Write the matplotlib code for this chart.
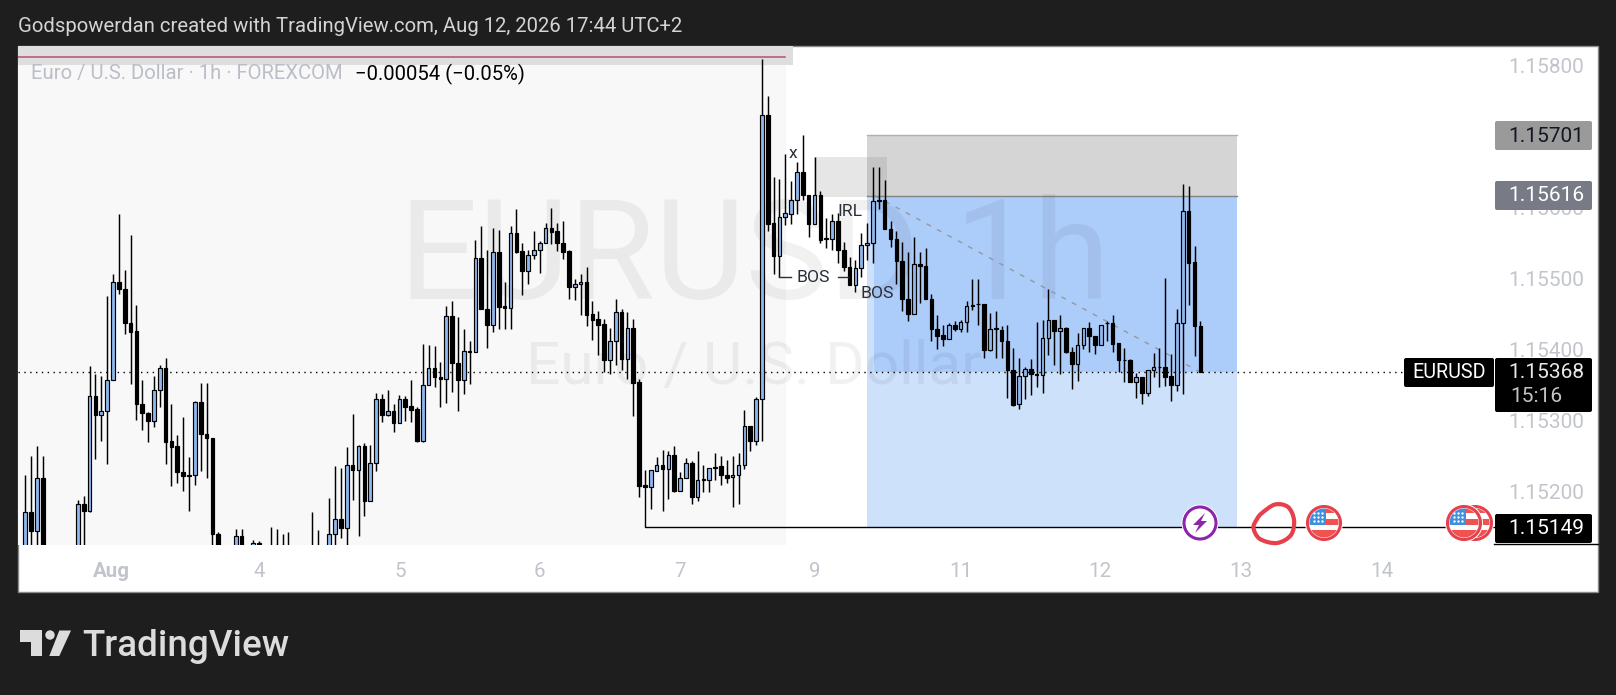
import numpy as np
import matplotlib
matplotlib.use("Agg")
import matplotlib.pyplot as plt
from matplotlib.patches import Rectangle, Circle, Polygon, FancyBboxPatch, PathPatch
from matplotlib.path import Path

plt.rcParams['font.family'] = ['Roboto', 'DejaVu Sans']

N = float('nan')
base_price = 1.15
opens_pts = [110,170,144,219,N,N,N,N,N,105,182,
 172,334,307,313,357,494,485,437,425,
 323,310,299,343,373,270,263,227,222,222,
 325,281,275,140,N,N,110,137,N,110,127,N,115,124,124,115,N,N,N,118,112,N,
 110,140,161,148,237,230,263,186,
 240,330,307,313,296,329,320,315,271,349,
 373,361,358,447,381,357,397,396,528,457,
 434,536,460,458,563,538,510,532,539,549,
 571,566,550,538,488,491,494,449,442,435,
 385,411,452,386,429,353,208,206,228,237,
 231,251,200,219,240,192,217,216,234,235,
 223,220,223,237,292,271,330,730,577,531,
 586,590,610,650,617,576,617,556,555,581,
 539,515,490,514,547,550,610,610,569,555,
 524,471,449,520,517,471,428,420,414,434,
 428,438,462,464,464,398,429,427,411,371,
 322,362,372,365,364,415,441,425,430,396,
 379,406,429,419,406,437,436,408,385,385,
 354,360,338,371,375,374,362,349,436,595,
 522,432]
highs_pts = [223,249,263,249,N,N,N,N,N,188,193,
 376,365,362,475,506,590,511,561,462,
 356,312,362,377,388,322,279,304,248,327,
 352,352,275,143,N,N,147,147,N,131,129,N,150,147,139,142,N,N,N,171,145,N,
 190,235,233,262,309,265,267,265,
 338,336,342,322,335,334,356,318,407,405,
 404,382,460,467,445,428,411,553,573,540,
 570,567,494,573,597,549,540,566,552,578,
 598,578,580,540,498,505,516,467,453,442,
 429,470,457,452,442,358,229,229,248,258,
 257,263,227,246,243,257,236,233,254,250,
 244,250,254,314,292,333,809,756,643,639,
 674,636,663,702,617,670,623,584,590,591,
 551,529,526,564,577,656,657,638,581,566,
 551,536,558,536,543,477,448,434,437,440,
 441,467,499,499,464,451,453,433,434,401,
 388,374,386,438,441,485,441,448,431,403,
 423,430,438,419,434,440,448,408,402,386,
 366,360,371,395,402,500,393,456,633,629,
 545,440]
lows_pts = [95,100,110,95,N,N,N,N,N,95,110,
 170,245,271,238,357,478,421,351,300,
 286,269,290,318,238,207,211,200,172,208,
 228,218,115,100,N,N,100,100,N,100,100,N,100,100,100,100,N,N,N,100,100,N,
 100,123,134,120,188,137,165,186,
 228,297,305,283,296,298,297,269,269,349,
 347,318,324,340,313,337,351,396,457,402,
 424,428,428,428,535,476,492,527,507,549,
 548,538,527,471,469,448,433,413,391,367,
 365,377,370,358,306,192,205,175,228,172,
 189,199,200,219,182,186,199,199,216,208,
 211,177,182,231,257,265,271,566,506,501,
 574,576,590,610,558,576,550,543,540,521,
 510,490,480,501,525,521,597,569,544,492,
 453,439,449,465,471,411,400,404,414,425,
 424,424,455,434,387,397,388,388,331,320,
 315,330,335,346,338,391,377,365,394,344,
 355,400,396,393,406,412,396,368,354,353,
 331,323,334,360,347,348,327,341,337,462,
 390,367]
closes_pts = [170,144,219,105,N,N,N,N,N,182,172,
 334,307,313,357,494,485,437,424,323,
 310,299,343,373,269,262,227,221,221,325,
 280,275,139,110,N,N,137,110,N,127,112,N,110,112,112,118,N,N,N,112,118,N,
 140,161,148,237,230,263,186,240,
 330,307,313,296,329,319,314,271,349,373,
 361,358,447,381,357,397,396,528,457,434,
 536,459,458,563,537,510,532,539,549,571,
 565,550,537,488,491,494,448,441,434,385,
 411,452,386,429,352,207,206,229,237,231,
 251,200,219,240,192,216,216,233,232,223,
 219,223,237,292,271,330,730,576,531,586,
 591,610,650,617,576,617,554,555,581,539,
 515,490,514,547,550,609,609,569,555,524,
 470,449,520,517,471,428,419,414,434,428,
 438,461,461,463,398,428,428,411,370,321,
 362,372,365,364,415,441,425,430,396,379,
 406,429,418,406,434,436,407,384,384,353,
 360,338,371,375,375,361,349,436,595,521,
 432,368]

price_ticks = [1.158, 1.157, 1.156, 1.155, 1.154, 1.153, 1.152]
price_labels = ['1.15800', '', '1.15600', '1.15500', '1.15400', '1.15300', '1.15200']
time_pos = [14.8, 40, 64.1, 87.9, 112, 135, 160, 183.8, 208, 232]
time_labels = ['Aug', '4', '5', '6', '7', '9', '11', '12', '13', '14']

entry_price = 1.15616
stop_price = 1.15701
target_price = 1.15149
last_price = 1.15368

o = base_price + np.array(opens_pts) * 1e-5
h = base_price + np.array(highs_pts) * 1e-5
l = base_price + np.array(lows_pts) * 1e-5
c = base_price + np.array(closes_pts) * 1e-5
assert len(o) == len(h) == len(l) == len(c) == 202, (len(o), len(h), len(l), len(c))
idx = np.arange(len(o))

W, H = 1616, 695
fig = plt.figure(figsize=(W / 100, H / 100), dpi=100, facecolor='#1e1e1e')

def px_axes(z):
    a = fig.add_axes([0, 0, 1, 1], zorder=z)
    a.set_xlim(0, W)
    a.set_ylim(H, 0)
    a.axis('off')
    a.patch.set_alpha(0)
    return a

bg = px_axes(0)
top = px_axes(5)

# frame and replay shade
bg.add_patch(Rectangle((17.5, 46), 1580.5, 546, fc='white', ec='#8a8a8a', lw=1))
bg.add_patch(Rectangle((18, 46.5), 768, 498.5, fc='#f8f8f8', ec='none'))

# header
bg.text(18, 26, 'Godspowerdan created with TradingView.com, Aug 12, 2026 17:44 UTC+2',
        color='#d4d4d4', fontsize=14.62, va='center', ha='left')

# price pane
ax = fig.add_axes([18 / W, 1 - 545 / H, (1495 - 18) / W, (545 - 46) / H], zorder=2)
ax.set_facecolor('none')
ax.set_xlim(-1.25, 251.4)
ax.set_ylim(1.15124, 1.158268)
for s in ax.spines.values():
    s.set_visible(False)

# highlight band at top left
ax.add_patch(Rectangle((-1.25, 1.158), 132.55, 0.000268, fc='#dedede', ec='none', zorder=1))
ax.plot([-1.25, 130], [1.15812, 1.15812], color='#b5506f', lw=1.1, zorder=1.5)

# position tool
ax.add_patch(Rectangle((144, target_price), 63.2, entry_price - target_price, fc='#cee1fb', ec='none', zorder=1))
ax.add_patch(Rectangle((145.1, last_price), 62.1, entry_price - last_price, fc='#acccf9', ec='none', zorder=1.1))
ax.add_patch(Rectangle((144, entry_price), 63.2, stop_price - entry_price, fc='#d5d5d5', ec='none', zorder=1.1))
ax.plot([144, 207.2], [stop_price] * 2, color='#b0b0b0', lw=1, zorder=1.2)
ax.plot([144, 207.2], [entry_price] * 2, color='#858585', lw=1, zorder=1.2)
ax.add_patch(Rectangle((134.9, 1.15614), 12.5, 0.00056, fc='#787878', alpha=0.18, ec='none', zorder=1.3))

# watermarks
ax.text(0.4985, 1 - (260 - 46) / 499, 'EURUSD 1h', transform=ax.transAxes, fontsize=100.5, color='black', alpha=0.055,
        ha='center', va='center', zorder=1.6)
ax.text(0.4985, 1 - (367 - 46) / 499, 'Euro / U.S. Dollar', transform=ax.transAxes, fontsize=43.5, color='black',
        alpha=0.055, ha='center', va='center', zorder=1.6)

# reference lines
ax.plot([-1.25, 235.8], [last_price] * 2, color='black', lw=1, ls=(0, (1, 3.2)), zorder=2)
ax.plot([106, 106, 251.4], [1.15206, target_price, target_price], color='black', lw=1.0, zorder=2)
ax.plot([145.3, 200.9], [entry_price, last_price], color='#9598a1', lw=1, ls=(0, (3.5, 5)), zorder=2.5)

# candles
ax.vlines(idx, l, h, color='black', lw=1.05, zorder=3)
up = c >= o
dn = c < o
ax.bar(idx[up], (c - o)[up], bottom=o[up], width=0.62, color='#8fb8ec', edgecolor='black', lw=0.85, zorder=3.2)
ax.bar(idx[dn], (o - c)[dn], bottom=c[dn], width=0.62, color='black', edgecolor='black', lw=0.85, zorder=3.2)

# axes text
ax.yaxis.tick_right()
ax.set_yticks(price_ticks, labels=price_labels)
ax.set_xticks(time_pos, labels=time_labels)
ax.tick_params(axis='y', length=0, pad=9.8, labelsize=15, labelcolor='#c3c5cc')
ax.tick_params(axis='x', length=0, pad=12, labelsize=14.8, labelcolor='#c1c4cb')
ax.get_xticklabels()[0].set_fontweight('bold')
for t in ax.get_yticklabels():
    t.set_y(t.get_position()[1])

# overlay marks
top.plot([1494, 1598], [544, 544], color='black', lw=1)
for txt, x, y in [('x', 793, 154), ('IRL', 850, 212), ('BOS', 813, 277), ('BOS', 877, 293)]:
    top.text(x, y, txt, color='#2a2e39', fontsize=12.6, ha='center', va='center')
top.plot([779, 791], [277, 277], color='#2a2e39', lw=1)
top.plot([838, 848], [277, 277], color='#2a2e39', lw=1)

top.text(31, 74, 'Euro / U.S. Dollar · 1h · FOREXCOM', color='#bcbec7', fontsize=14.62, va='center', ha='left')
top.text(355, 74, '\u22120.00054 (\u22120.05%)', color='black', fontsize=14.62, va='center', ha='left')

def tag(x0, y0, x1, y1, color):
    top.add_patch(FancyBboxPatch((x0, y0), x1 - x0, y1 - y0, boxstyle='round,pad=0,rounding_size=2', fc=color, ec='none'))

tag(1495, 121, 1592, 150, '#9a9a9a')
top.text(1584, 136, '1.15701', color='#131722', fontsize=15, ha='right', va='center')
tag(1495, 181, 1592, 210, '#787b86')
top.text(1584, 195.5, '1.15616', color='white', fontsize=15, ha='right', va='center')
tag(1404, 358, 1494, 387, 'black')
top.text(1449, 373, 'EURUSD', color='white', fontsize=14.2, ha='center', va='center')
tag(1495, 358, 1592, 412, 'black')
top.text(1584, 373, '1.15368', color='#e8e8e8', fontsize=15, ha='right', va='center')
top.text(1510, 397, '15:16', color='#c4c4c4', fontsize=15, ha='left', va='center')
tag(1495, 514, 1592, 543, 'black')
top.text(1584, 528, '1.15149', color='white', fontsize=15, ha='right', va='center')

RED = '#e5404b'
def flag(cx, cy):
    top.add_patch(Circle((cx, cy), 19, fc='white', ec='none'))
    clip = Circle((cx, cy), 14.5, transform=top.transData)
    for rect, col in [((cx + 2, cy - 15, 16, 5), '#ef5350'),
                      ((cx + 2, cy - 4, 16, 6), '#ef5350'),
                      ((cx - 15, cy + 7, 30, 8), '#ef5350'),
                      ((cx - 15, cy - 15, 17, 17), '#3d8fe0')]:
        p = Rectangle(rect[:2], rect[2], rect[3], fc=col, ec='none')
        top.add_patch(p)
        p.set_clip_path(clip)
    sx, sy = np.meshgrid(np.arange(cx - 10, cx + 1, 4), np.arange(cy - 10, cy + 1, 4))
    top.scatter(sx.ravel(), sy.ravel(), s=3, c='white', linewidths=0)
    top.add_patch(Circle((cx, cy), 16.5, fc='none', ec=RED, lw=2.2))

flag(1475, 523)
flag(1464, 523)
flag(1324, 523)

# hand-drawn ring
ring = [(1262, 513), (1275, 504.5), (1288, 507), (1294, 520), (1291, 535), (1277, 543),
        (1260, 539), (1253.5, 528), (1257, 519)]
n = len(ring)
verts = [ring[0]]
codes = [Path.MOVETO]
for i in range(n):
    p0, p1, p2, p3 = [np.array(ring[(i + k) % n]) for k in (-1, 0, 1, 2)]
    verts += [tuple(p1 + (p2 - p0) / 6), tuple(p2 - (p3 - p1) / 6), tuple(p2)]
    codes += [Path.CURVE4] * 3
top.add_patch(PathPatch(Path(verts, codes), fc='none', ec=RED, lw=3))

top.add_patch(Circle((1200, 523), 18.5, fc='white', ec='none'))
top.add_patch(Circle((1200, 523), 16, fc='white', ec='#8e24aa', lw=2.2))
top.add_patch(Polygon([(1205, 513), (1193, 525), (1199, 525), (1195, 533), (1207, 521), (1201, 521)], fc='#8e24aa', ec='none'))

# brand
LOGO = '#dcdcdc'
bg.add_patch(Polygon([(20, 630), (41.7, 630), (41.7, 656), (30.7, 656), (30.7, 642), (20, 642)], fc=LOGO, ec='none'))
bg.add_patch(Circle((50, 635), 4.7, fc=LOGO, ec='none'))
bg.add_patch(Polygon([(59.3, 630.5), (71, 630.5), (59.3, 656), (49.3, 656)], fc=LOGO, ec='none'))
bg.text(82, 656, 'TradingView', color=LOGO, fontsize=26.5, fontweight='medium', ha='left', va='baseline')

fig.savefig('out.png', dpi=100, facecolor=fig.get_facecolor())
